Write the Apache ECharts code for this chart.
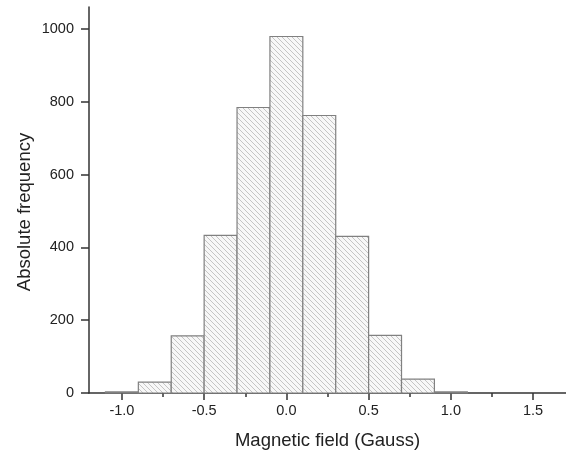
<!DOCTYPE html>
<html lang="en">
<head>
    <meta charset="UTF-8">
    <title>Magnetic field histogram</title>
    <style>
        body { margin: 0; background: #fff; }
    </style>
</head>
<body>
    <div id="main" style="width:566px;height:454px;"></div>
</body>
<script src="https://cdn.jsdelivr.net/npm/echarts@6/dist/echarts.min.js"></script>
<script>
    // histogram bins (centre of each bin, Gauss) and counts
    var binCenters = [-1.0, -0.8, -0.6, -0.4, -0.2, 0.0, 0.2, 0.4, 0.6, 0.8, 1.0];
    var counts = [3, 30, 157, 433, 784, 979, 762, 430, 158, 38, 3];
    var binWidth = 0.2;
    var xMajorTicks = [-1.0, -0.5, 0.0, 0.5, 1.0, 1.5];
    var xMinorTicks = [-0.75, -0.25, 0.25, 0.75, 1.25];
    var yMajorTicks = [0, 200, 400, 600, 800, 1000];
    var yMinorTicks = [100, 300, 500, 700, 900];

    var font = '"Liberation Sans", Arial, sans-serif';
    var axisColor = '#333';

    // hatch pattern for the bars
    var hatch = document.createElement('canvas');
    hatch.width = 5;
    hatch.height = 5;
    var hc = hatch.getContext('2d');
    hc.fillStyle = '#f7f7f7';
    hc.fillRect(0, 0, 5, 5);
    hc.strokeStyle = '#bdbdbd';
    hc.lineWidth = 0.9;
    hc.beginPath();
    hc.moveTo(-1, -1); hc.lineTo(6, 6);
    hc.moveTo(-1, 4); hc.lineTo(1, 6);
    hc.moveTo(4, -1); hc.lineTo(6, 1);
    hc.stroke();

    var data = binCenters.map(function (c, i) {
        return [c - binWidth / 2, c + binWidth / 2, counts[i]];
    });

    function minorAxis(extra) {
        return Object.assign({
            type: 'value',
            splitLine: { show: false },
            axisLine: { show: false },
            axisLabel: { show: false }
        }, extra);
    }

    var main = echarts.init(document.getElementById('main'));
    var option = {
        backgroundColor: '#fff',
        animation: false,
        grid: { left: 89, right: 0, top: 7, bottom: 61, outerBoundsMode: 'none' },
        xAxis: [{
            type: 'value',
            min: -1.2,
            max: 1.7,
            name: 'Magnetic field (Gauss)',
            nameLocation: 'middle',
            nameGap: 38,
            nameMoveOverlap: false,
            nameTextStyle: { color: '#222', fontSize: 18.5, fontFamily: font },
            splitLine: { show: false },
            axisLine: { onZero: false, lineStyle: { color: axisColor, width: 1.5 } },
            axisTick: { customValues: xMajorTicks, length: 7, lineStyle: { color: axisColor, width: 1.5 } },
            axisLabel: {
                customValues: xMajorTicks,
                color: '#222', fontSize: 14.5, fontFamily: font, margin: 10,
                formatter: function (v) { return v.toFixed(1); }
            }
        }, minorAxis({
            position: 'bottom',
            min: -1.2,
            max: 1.7,
            axisTick: { customValues: xMinorTicks, length: 4, lineStyle: { color: axisColor, width: 1.5 } }
        })],
        yAxis: [{
            type: 'value',
            min: 0,
            max: 1060,
            name: 'Absolute frequency',
            nameLocation: 'middle',
            nameGap: 55,
            nameMoveOverlap: false,
            nameTextStyle: { color: '#222', fontSize: 18.5, fontFamily: font, padding: [0, 24, 0, 0] },
            splitLine: { show: false },
            axisLine: { show: true, onZero: false, lineStyle: { color: axisColor, width: 1.5 } },
            axisTick: { show: true, customValues: yMajorTicks, length: 8, lineStyle: { color: axisColor, width: 1.5 } },
            axisLabel: {
                customValues: yMajorTicks,
                color: '#222', fontSize: 14.5, fontFamily: font, margin: 15,
                formatter: function (v) { return String(v); }
            }
        }, minorAxis({
            position: 'left',
            min: 0,
            max: 1060,
            axisTick: { show: true, customValues: yMinorTicks, length: 4, lineStyle: { color: axisColor, width: 1.5 } }
        })],
        series: [{
            type: 'custom',
            xAxisIndex: 0,
            yAxisIndex: 0,
            renderItem: function (params, api) {
                var p0 = api.coord([api.value(0), api.value(2)]);
                var p1 = api.coord([api.value(1), 0]);
                return {
                    type: 'rect',
                    shape: { x: p0[0], y: p0[1], width: p1[0] - p0[0], height: p1[1] - p0[1] },
                    style: {
                        fill: { image: hatch, repeat: 'repeat' },
                        stroke: '#808080',
                        lineWidth: 1.2
                    }
                };
            },
            encode: { x: [0, 1], y: 2 },
            data: data
        }]
    };
    main.setOption(option);
</script>
</html>
